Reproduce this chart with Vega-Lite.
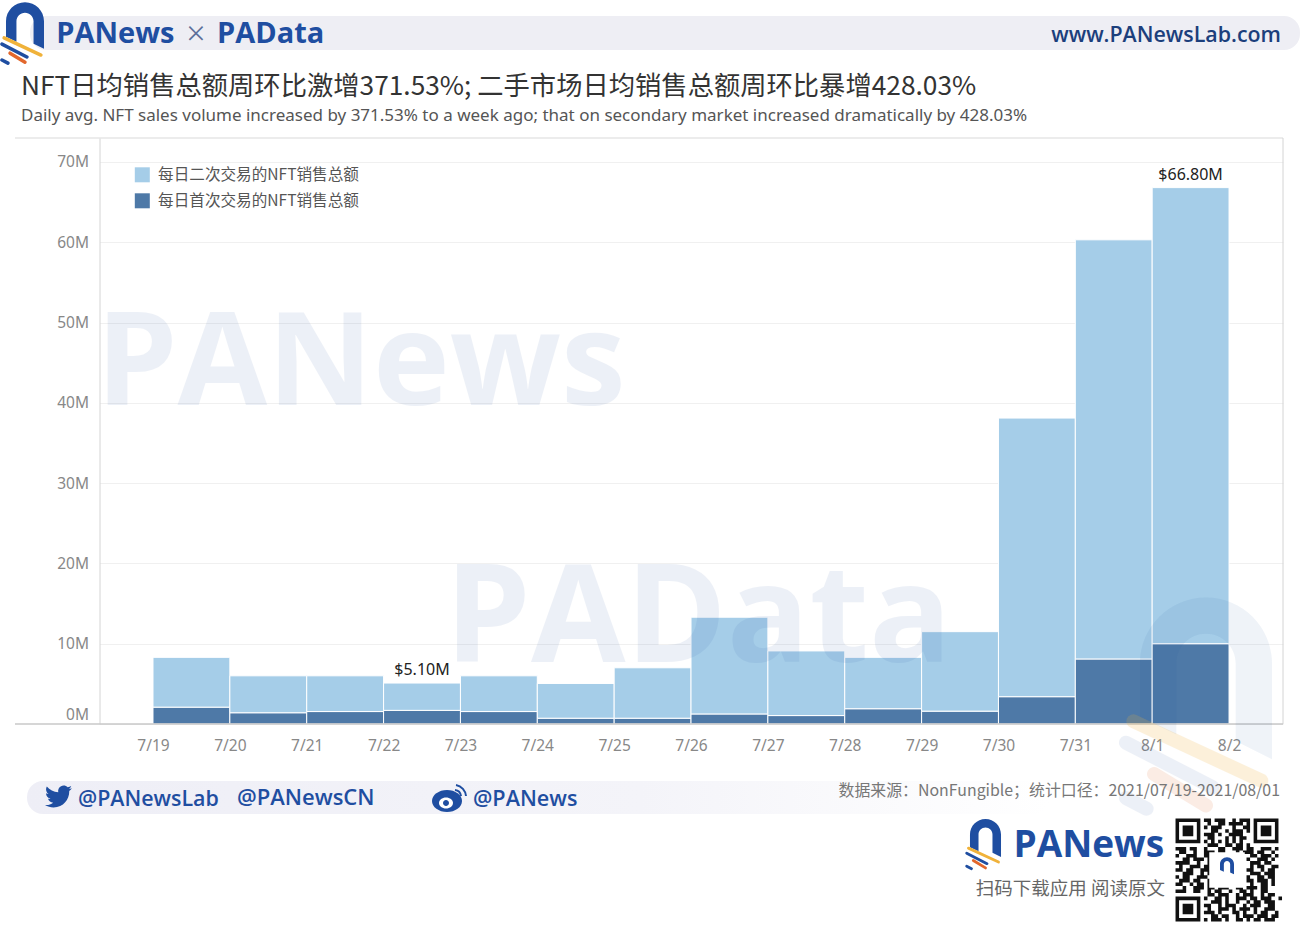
{
"$schema":"https://vega.github.io/schema/vega-lite/v6.json",
"autosize":{"type":"none"},
"width":1183.5,"height":586,
"padding":{"left":99.5,"top":138,"right":17,"bottom":202},
"background":"#ffffff",
"config":{"view":{"stroke":null},"font":"Noto Sans CJK SC","text":{"baseline":"alphabetic"}},
"title":{"text":"NFT日均销售总额周环比激增371.53%; 二手市场日均销售总额周环比暴增428.03%","subtitle":"Daily avg. NFT sales volume increased by 371.53% to a week ago; that on secondary market increased dramatically by 428.03%","anchor":"start","frame":"group","dx":-78.5,"offset":-122,"font":"Noto Sans CJK SC","fontSize":26.3,"fontWeight":"normal","color":"#333333","subtitleFont":"Noto Sans","subtitleFontSize":17,"subtitleColor":"#555555","subtitlePadding":8},
"datasets":{
"sales":[
{"date":"2021-07-19","end":"2021-07-20","series":"每日首次交易的NFT销售总额","sales":2.1},
{"date":"2021-07-19","end":"2021-07-20","series":"每日二次交易的NFT销售总额","sales":6.2},
{"date":"2021-07-20","end":"2021-07-21","series":"每日首次交易的NFT销售总额","sales":1.4},
{"date":"2021-07-20","end":"2021-07-21","series":"每日二次交易的NFT销售总额","sales":4.6},
{"date":"2021-07-21","end":"2021-07-22","series":"每日首次交易的NFT销售总额","sales":1.55},
{"date":"2021-07-21","end":"2021-07-22","series":"每日二次交易的NFT销售总额","sales":4.45},
{"date":"2021-07-22","end":"2021-07-23","series":"每日首次交易的NFT销售总额","sales":1.7},
{"date":"2021-07-22","end":"2021-07-23","series":"每日二次交易的NFT销售总额","sales":3.4},
{"date":"2021-07-23","end":"2021-07-24","series":"每日首次交易的NFT销售总额","sales":1.55},
{"date":"2021-07-23","end":"2021-07-24","series":"每日二次交易的NFT销售总额","sales":4.45},
{"date":"2021-07-24","end":"2021-07-25","series":"每日首次交易的NFT销售总额","sales":0.72},
{"date":"2021-07-24","end":"2021-07-25","series":"每日二次交易的NFT销售总额","sales":4.33},
{"date":"2021-07-25","end":"2021-07-26","series":"每日首次交易的NFT销售总额","sales":0.72},
{"date":"2021-07-25","end":"2021-07-26","series":"每日二次交易的NFT销售总额","sales":6.28},
{"date":"2021-07-26","end":"2021-07-27","series":"每日首次交易的NFT销售总额","sales":1.25},
{"date":"2021-07-26","end":"2021-07-27","series":"每日二次交易的NFT销售总额","sales":12.05},
{"date":"2021-07-27","end":"2021-07-28","series":"每日首次交易的NFT销售总额","sales":1.05},
{"date":"2021-07-27","end":"2021-07-28","series":"每日二次交易的NFT销售总额","sales":8.05},
{"date":"2021-07-28","end":"2021-07-29","series":"每日首次交易的NFT销售总额","sales":1.9},
{"date":"2021-07-28","end":"2021-07-29","series":"每日二次交易的NFT销售总额","sales":6.4},
{"date":"2021-07-29","end":"2021-07-30","series":"每日首次交易的NFT销售总额","sales":1.6},
{"date":"2021-07-29","end":"2021-07-30","series":"每日二次交易的NFT销售总额","sales":9.9},
{"date":"2021-07-30","end":"2021-07-31","series":"每日首次交易的NFT销售总额","sales":3.4},
{"date":"2021-07-30","end":"2021-07-31","series":"每日二次交易的NFT销售总额","sales":34.7},
{"date":"2021-07-31","end":"2021-08-01","series":"每日首次交易的NFT销售总额","sales":8.1},
{"date":"2021-07-31","end":"2021-08-01","series":"每日二次交易的NFT销售总额","sales":52.2},
{"date":"2021-08-01","end":"2021-08-02","series":"每日首次交易的NFT销售总额","sales":10.0},
{"date":"2021-08-01","end":"2021-08-02","series":"每日二次交易的NFT销售总额","sales":56.8}
],
"labels":[
{"mid":"2021-07-22T12:00:00Z","total":5.1,"label":"$5.10M"},
{"mid":"2021-08-01T12:00:00Z","total":66.8,"label":"$66.80M"}
]
},
"data":{"name":"sales"},
"layer":[
{"data":{"values":[{}]},"layer":[
{"mark":{"type":"rect","color":"#eeeef4","cornerRadius":16},"encoding":{"x":{"datum":1626514530000,"type":"temporal"},"x2":{"datum":1627942170000},"y":{"datum":88.17,"type":"quantitative"},"y2":{"datum":83.94}}},
{"mark":{"type":"rect","cornerRadius":16,"fill":{"gradient":"linear","x1":0,"x2":1,"y1":0,"y2":0,"stops":[{"offset":0,"color":"#eeeef6"},{"offset":0.6,"color":"#f4f4f9"},{"offset":1,"color":"#ffffff"}]}},"encoding":{"x":{"datum":1626511160000,"type":"temporal"},"x2":{"datum":1627661140000},"y":{"datum":-7.1,"type":"quantitative"},"y2":{"datum":-11.21}}},
{"mark":{"type":"rule","color":"#d9d9d9","strokeWidth":1},"encoding":{"x":{"datum":1626497670000,"type":"temporal"},"x2":{"datum":1627923060000},"y":{"datum":72.98,"type":"quantitative"}}},
{"mark":{"type":"rule","color":"#d4d4d4","strokeWidth":1},"encoding":{"x":{"datum":1627923060000,"type":"temporal"},"y":{"datum":0,"type":"quantitative"},"y2":{"datum":72.98}}}
]},
{"transform":[{"stack":"sales","groupby":["date"],"sort":[{"field":"series","order":"descending"}],"as":["sales_from","sales_to"]}],
"mark":{"type":"rect","stroke":"#ffffff","strokeWidth":1},
"encoding":{
"x":{"field":"date","type":"temporal","title":null,"scale":{"type":"utc","domain":[1626592660000,1627923060000],"nice":false},"axis":{"values":[1626652800000,1626739200000,1626825600000,1626912000000,1626998400000,1627084800000,1627171200000,1627257600000,1627344000000,1627430400000,1627516800000,1627603200000,1627689600000,1627776000000,1627862400000],"labelExpr":"utcFormat(datum.value,'%-m/%-d')","grid":false,"ticks":false,"domain":false,"labelFont":"Noto Sans","labelFontSize":15.5,"labelColor":"#888888","labelPadding":14,"labelFlush":false,"labelOverlap":false}},
"x2":{"field":"end"},
"y":{"field":"sales_from","type":"quantitative","title":null,"scale":{"domain":[0,72.98],"nice":false,"zero":false},"axis":{"values":[0,10,20,30,40,50,60,70],"labelExpr":"datum.value+'M'","grid":true,"gridColor":"#f0f0f0","ticks":false,"domain":true,"domainColor":"#d4d4d4","labelFont":"Noto Sans","labelFontSize":15.5,"labelColor":"#888888","labelPadding":11,"labelFlush":true,"labelFlushOffset":-2}},
"y2":{"field":"sales_to"},
"color":{"field":"series","type":"nominal","scale":{"domain":["每日二次交易的NFT销售总额","每日首次交易的NFT销售总额"],"range":["#a5cde8","#4e79a7"]},"legend":{"title":null,"orient":"none","legendX":35,"legendY":29,"padding":0,"symbolType":"square","symbolSize":225,"symbolStrokeWidth":0,"symbolOpacity":1,"labelFont":"Noto Sans CJK SC","labelFontSize":15.6,"labelColor":"#555555","labelOffset":8,"labelLimit":400,"rowPadding":9}}
}},
{"data":{"name":"labels"},"mark":{"type":"text","baseline":"bottom","dy":-5,"font":"Noto Sans","fontSize":16,"color":"#222222"},"encoding":{"x":{"field":"mid","type":"temporal"},"y":{"field":"total","type":"quantitative"},"text":{"field":"label"}}},
{"data":{"values":[{}]},"layer":[
{"mark":{"type":"rule","color":"#c8c8c8","strokeWidth":1.5},"encoding":{"x":{"datum":1626497670000,"type":"temporal"},"x2":{"datum":1627923060000},"y":{"datum":0,"type":"quantitative"}}},

{"mark":{"type":"text","text":"PANews","align":"left","font":"Open Sans","fontWeight":"bold","fontSize":130,"color":"#1f4ea1","opacity":0.08},"encoding":{"x":{"datum":1626588590000,"type":"temporal"},"y":{"datum":39.73,"type":"quantitative"}}},
{"mark":{"type":"text","text":"PAData","align":"left","font":"Open Sans","fontWeight":"bold","fontSize":137,"color":"#1f4ea1","opacity":0.08},"encoding":{"x":{"datum":1626980900000,"type":"temporal"},"y":{"datum":7.72,"type":"quantitative"}}},

{"mark":{"type":"point","shape":"M-.8 .45V-.2A.8 .8 0 0 1 .8 -.2V.96L.36 .74V-.2A.36 .36 0 0 0 -.36 -.2V.66Z","size":27225,"filled":true,"color":"#1f4ea1","opacity":0.07},"encoding":{"x":{"datum":1627836500000,"type":"temporal"},"y":{"datum":5.48,"type":"quantitative"}}},
{"mark":{"type":"point","shape":"M-.88 .5L.67 1.22","size":27225,"filled":false,"color":"#f0b23a","opacity":0.18,"strokeWidth":14,"strokeCap":"round"},"encoding":{"x":{"datum":1627836500000,"type":"temporal"},"y":{"datum":5.48,"type":"quantitative"}}},
{"mark":{"type":"point","shape":"M-.97 .76L.08 1.3M-.97 1.43L-.72 1.56","size":27225,"filled":false,"color":"#1f4ea1","opacity":0.08,"strokeWidth":14,"strokeCap":"round"},"encoding":{"x":{"datum":1627836500000,"type":"temporal"},"y":{"datum":5.48,"type":"quantitative"}}},
{"mark":{"type":"point","shape":"M-.63 1.14L0 1.52","size":27225,"filled":false,"color":"#e2672c","opacity":0.12,"strokeWidth":14,"strokeCap":"round"},"encoding":{"x":{"datum":1627836500000,"type":"temporal"},"y":{"datum":5.48,"type":"quantitative"}}},

{"mark":{"type":"point","shape":"M-.8 .45V-.2A.8 .8 0 0 1 .8 -.2V.96L.36 .74V-.2A.36 .36 0 0 0 -.36 -.2V.66Z","size":2256,"filled":true,"color":"#1f4ea1","opacity":1},"encoding":{"x":{"datum":1626508910000,"type":"temporal"},"y":{"datum":86.92,"type":"quantitative"}}},
{"mark":{"type":"point","shape":"M-.88 .5L.67 1.22","size":2256,"filled":false,"color":"#f0b23a","opacity":1,"strokeWidth":3.5,"strokeCap":"round"},"encoding":{"x":{"datum":1626508910000,"type":"temporal"},"y":{"datum":86.92,"type":"quantitative"}}},
{"mark":{"type":"point","shape":"M-.97 .76L.08 1.3M-.97 1.43L-.72 1.56","size":2256,"filled":false,"color":"#1f4ea1","opacity":1,"strokeWidth":3.5,"strokeCap":"round"},"encoding":{"x":{"datum":1626508910000,"type":"temporal"},"y":{"datum":86.92,"type":"quantitative"}}},
{"mark":{"type":"point","shape":"M-.63 1.14L0 1.52","size":2256,"filled":false,"color":"#e2672c","opacity":1,"strokeWidth":3.5,"strokeCap":"round"},"encoding":{"x":{"datum":1626508910000,"type":"temporal"},"y":{"datum":86.92,"type":"quantitative"}}},

{"mark":{"type":"text","text":"PANews","align":"left","font":"Open Sans","fontWeight":"bold","fontSize":29,"color":"#1f4ea1"},"encoding":{"x":{"datum":1626544000000,"type":"temporal"},"y":{"datum":84.81,"type":"quantitative"}}},
{"mark":{"type":"text","text":"×","align":"center","font":"Noto Sans","fontWeight":300,"fontSize":33,"color":"#5d6f9a"},"encoding":{"x":{"datum":1626701140000,"type":"temporal"},"y":{"datum":84.5,"type":"quantitative"}}},
{"mark":{"type":"text","text":"PAData","align":"left","font":"Open Sans","fontWeight":"bold","fontSize":29,"color":"#1f4ea1"},"encoding":{"x":{"datum":1626724740000,"type":"temporal"},"y":{"datum":84.81,"type":"quantitative"}}},
{"mark":{"type":"text","text":"www.PANewsLab.com","align":"right","font":"Open Sans","fontWeight":600,"fontSize":21.4,"color":"#1c3f7c"},"encoding":{"x":{"datum":1627920810000,"type":"temporal"},"y":{"datum":84.93,"type":"quantitative"}}},

{"mark":{"type":"point","shape":"M23.95 4.57a10 10 0 0 1-2.82.77 4.96 4.96 0 0 0 2.16-2.72c-.95.55-2 .96-3.12 1.19a4.92 4.92 0 0 0-8.38 4.48C7.69 8.1 4.07 6.13 1.64 3.16a4.92 4.92 0 0 0 1.52 6.57 4.9 4.9 0 0 1-2.23-.61v.06a4.92 4.92 0 0 0 3.95 4.83 4.9 4.9 0 0 1-2.22.08 4.93 4.93 0 0 0 4.6 3.42A9.87 9.87 0 0 1 0 19.54a13.94 13.94 0 0 0 7.55 2.21c9.05 0 14-7.5 14-14 0-.21 0-.42-.01-.63a10 10 0 0 0 2.41-2.55z","size":5.06,"filled":true,"color":"#1f4ea1","opacity":1},"encoding":{"x":{"datum":1626531390000,"type":"temporal"},"y":{"datum":-7.35,"type":"quantitative"}}},
{"mark":{"type":"text","text":"@PANewsLab","align":"left","font":"Open Sans","fontWeight":600,"fontSize":21.4,"color":"#1f4ea1"},"encoding":{"x":{"datum":1626568490000,"type":"temporal"},"y":{"datum":-10.21,"type":"quantitative"}}},
{"mark":{"type":"text","text":"@PANewsCN","align":"left","font":"Open Sans","fontWeight":600,"fontSize":22,"color":"#1f4ea1"},"encoding":{"x":{"datum":1626747230000,"type":"temporal"},"y":{"datum":-10.09,"type":"quantitative"}}},
{"mark":{"type":"point","shape":"M-15 3A15 11 0 1 0 15 3A15 11 0 1 0 -15 3Z","size":4,"filled":true,"color":"#1f4ea1","opacity":1},"encoding":{"x":{"datum":1626983290000,"type":"temporal"},"y":{"datum":-9.22,"type":"quantitative"}}},
{"mark":{"type":"point","shape":"M-8 5A7 5.5 0 1 0 6 5A7 5.5 0 1 0 -8 5Z","size":4,"filled":true,"color":"#ffffff","opacity":1},"encoding":{"x":{"datum":1626983290000,"type":"temporal"},"y":{"datum":-9.22,"type":"quantitative"}}},
{"mark":{"type":"point","shape":"M-4 5A3 3 0 1 0 2 5A3 3 0 1 0 -4 5Z","size":4,"filled":true,"color":"#1f4ea1","opacity":1},"encoding":{"x":{"datum":1626983290000,"type":"temporal"},"y":{"datum":-9.22,"type":"quantitative"}}},
{"mark":{"type":"point","shape":"M8 -8A7 7 0 0 1 14 -2M9 -13A12 12 0 0 1 19 -2","size":4,"filled":false,"color":"#1f4ea1","opacity":1,"strokeWidth":2},"encoding":{"x":{"datum":1626983290000,"type":"temporal"},"y":{"datum":-9.22,"type":"quantitative"}}},
{"mark":{"type":"text","text":"@PANews","align":"left","font":"Open Sans","fontWeight":600,"fontSize":21.6,"color":"#1f4ea1"},"encoding":{"x":{"datum":1627012520000,"type":"temporal"},"y":{"datum":-10.21,"type":"quantitative"}}},
{"mark":{"type":"text","text":"数据来源：NonFungible；统计口径：2021/07/19-2021/08/01","align":"right","font":"Noto Sans CJK SC","fontSize":15.9,"color":"#777777"},"encoding":{"x":{"datum":1627919690000,"type":"temporal"},"y":{"datum":-8.97,"type":"quantitative"}}},

{"mark":{"type":"point","shape":"M-.8 .45V-.2A.8 .8 0 0 1 .8 -.2V.96L.36 .74V-.2A.36 .36 0 0 0 -.36 -.2V.66Z","size":1505,"filled":true,"color":"#1f4ea1","opacity":1},"encoding":{"x":{"datum":1627588630000,"type":"temporal"},"y":{"datum":-14.25,"type":"quantitative"}}},
{"mark":{"type":"point","shape":"M-.88 .5L.67 1.22","size":1505,"filled":false,"color":"#f0b23a","opacity":1,"strokeWidth":2.8,"strokeCap":"round"},"encoding":{"x":{"datum":1627588630000,"type":"temporal"},"y":{"datum":-14.25,"type":"quantitative"}}},
{"mark":{"type":"point","shape":"M-.97 .76L.08 1.3M-.97 1.43L-.72 1.56","size":1505,"filled":false,"color":"#1f4ea1","opacity":1,"strokeWidth":2.8,"strokeCap":"round"},"encoding":{"x":{"datum":1627588630000,"type":"temporal"},"y":{"datum":-14.25,"type":"quantitative"}}},
{"mark":{"type":"point","shape":"M-.63 1.14L0 1.52","size":1505,"filled":false,"color":"#e2672c","opacity":1,"strokeWidth":2.8,"strokeCap":"round"},"encoding":{"x":{"datum":1627588630000,"type":"temporal"},"y":{"datum":-14.25,"type":"quantitative"}}},
{"mark":{"type":"text","text":"PANews","align":"left","font":"Open Sans","fontWeight":"bold","fontSize":37,"color":"#1f4ea1"},"encoding":{"x":{"datum":1627620000000,"type":"temporal"},"y":{"datum":-16.56,"type":"quantitative"}}},
{"mark":{"type":"text","text":"扫码下载应用  阅读原文","align":"right","font":"Noto Sans CJK SC","fontSize":18.5,"color":"#666666"},"encoding":{"x":{"datum":1627790410000,"type":"temporal"},"y":{"datum":-21.3,"type":"quantitative"}}},

{"mark":{"type":"point","shape":"M-14.5 -14.5h7v7h-7zM-13.5 -13.5v5h5v-5zM-12.5 -12.5h3v3h-3zM7.5 -14.5h7v7h-7zM8.5 -13.5v5h5v-5zM9.5 -12.5h3v3h-3zM-14.5 7.5h7v7h-7zM-13.5 8.5v5h5v-5zM-12.5 9.5h3v3h-3z","size":50.4,"filled":true,"color":"#111111","opacity":1},"encoding":{"x":{"datum":1627860110000,"type":"temporal"},"y":{"datum":-18.18,"type":"quantitative"}}},
{"mark":{"type":"point","shape":"M-6.5 -14h2m1 0h3m2 0h1m1 0h3M-5.5 -13h1m2 0h2m1 0h4m1 0h1M-6.5 -12h1m1 0h3m3 0h1m2 0h2M-4.5 -11h2m2 0h1m1 0h3m1 0h1M-6.5 -10h3m1 0h1m2 0h4M-5.5 -9h2m3 0h1m1 0h1m1 0h2M-6.5 -8h1m1 0h1m1 0h1m1 0h1m1 0h1m1 0h1M-5.5 -7h3m2 0h2m1 0h2m1 0h1M-14.5 -6h3m1 0h2m2 0h1m3 0h2m2 0h3m1 0h2m2 0h3m1 0h1M-13.5 -5h2m2 0h1m2 0h3m1 0h2m3 0h1m1 0h3m1 0h2m2 0h1M-14.5 -4h1m2 0h3m2 0h2m11 0h2m1 0h3m1 0h1M-12.5 -3h2m1 0h3m1 0h1m10 0h1m2 0h3m1 0h1M-14.5 -2h4m2 0h1m2 0h1m11 0h3m1 0h2M-13.5 -1h1m2 0h3m1 0h2m11 0h1m1 0h2m2 0h2M-14.5 0h2m1 0h2m2 0h3m10 0h2m2 0h1m1 0h2M-12.5 1h3m2 0h1m1 0h1m11 0h3m1 0h3M-14.5 2h1m1 0h2m2 0h3m11 0h1m2 0h2m1 0h2M-13.5 3h3m1 0h2m2 0h1m10 0h2m1 0h3m1 0h1M-14.5 4h2m2 0h1m1 0h2m1 0h1m11 0h1m2 0h2m1 0h1M-12.5 5h1m2 0h3m1 0h2m1 0h3m2 0h2m1 0h3m1 0h2M-14.5 6h3m2 0h2m2 0h1m1 0h2m2 0h1m2 0h2m1 0h1m2 0h2M-5.5 7h2m1 0h3m2 0h1m1 0h3m2 0h1m1 0h2M-6.5 8h1m2 0h2m1 0h1m2 0h3m1 0h2m1 0h3m2 0h1M-4.5 9h3m1 0h1m2 0h1m2 0h1m1 0h2m1 0h3M-6.5 10h2m2 0h1m1 0h3m2 0h1m1 0h3m2 0h2M-5.5 11h1m2 0h3m1 0h1m1 0h3m1 0h1m2 0h3M-6.5 12h3m1 0h1m3 0h2m1 0h1m2 0h1m1 0h2m2 0h1M-4.5 13h2m1 0h2m2 0h1m1 0h3m1 0h3m1 0h2M-6.5 14h1m1 0h3m1 0h1m2 0h2m1 0h1m1 0h2m1 0h3","size":50.4,"filled":false,"color":"#111111","opacity":1,"strokeWidth":3.55},"encoding":{"x":{"datum":1627860110000,"type":"temporal"},"y":{"datum":-18.18,"type":"quantitative"}}},
{"mark":{"type":"point","shape":"M-5 -5h10v10h-10z","size":50.4,"filled":true,"color":"#ffffff","opacity":1},"encoding":{"x":{"datum":1627860110000,"type":"temporal"},"y":{"datum":-18.18,"type":"quantitative"}}},
{"mark":{"type":"point","shape":"M-.8 .45V-.2A.8 .8 0 0 1 .8 -.2V.96L.36 .74V-.2A.36 .36 0 0 0 -.36 -.2V.66Z","size":306,"filled":true,"color":"#1f4ea1","opacity":1},"encoding":{"x":{"datum":1627860110000,"type":"temporal"},"y":{"datum":-17.68,"type":"quantitative"}}}
]}
]
}
